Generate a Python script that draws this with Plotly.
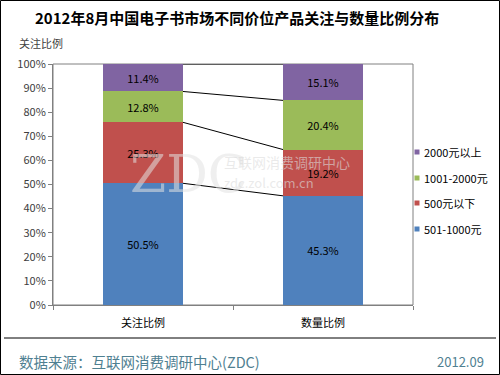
import plotly.graph_objects as go

categories = ["关注比例", "数量比例"]
series_names = ["501-1000元", "500元以下", "1001-2000元", "2000元以上"]
v_501_1000 = [50.5, 45.3]
v_below_500 = [25.3, 19.2]
v_1001_2000 = [12.8, 20.4]
v_above_2000 = [11.4, 15.1]
colors = ["#4F81BD", "#C0504D", "#9BBB59", "#8064A2"]
yticks = [0, 10, 20, 30, 40, 50, 60, 70, 80, 90, 100]

series_values = [v_501_1000, v_below_500, v_1001_2000, v_above_2000]
FONT = "Noto Sans CJK SC, sans-serif"
W, H = 500, 375
L, R, T, B = 53, 87, 64, 70
pw, ph = W - L - R, H - T - B
BW = 0.444

def px(x):
    return (x - L) / pw

def py(y):
    return (H - B - y) / ph

fig = go.Figure()
for i, (name, vals) in enumerate(zip(series_names, series_values)):
    fig.add_trace(go.Bar(
        x=categories, y=vals, name=name,
        marker=dict(color=colors[i], line=dict(width=0)),
        width=BW,
        text=[f"{v:.1f}%" for v in vals],
        textposition="inside", insidetextanchor="middle",
        textfont=dict(color="#000000", size=11, family=FONT),
        showlegend=False,
    ))

shapes = []
annotations = []
# connector lines between stacked segments
cum = [0.0, 0.0]
for vals in series_values:
    cum = [cum[0] + vals[0], cum[1] + vals[1]]
    shapes.append(dict(type="line", xref="x", yref="y",
                       x0=0 + BW / 2, x1=1 - BW / 2, y0=cum[0], y1=cum[1],
                       line=dict(color="#000000", width=1)))
# plot area frame
shapes.append(dict(type="rect", xref="paper", yref="paper", x0=0, x1=1, y0=0, y1=1,
                   line=dict(color="#808080", width=1), layer="below"))
# footer separator
shapes.append(dict(type="line", xref="paper", yref="paper",
                   x0=px(4), x1=px(496), y0=py(338), y1=py(338),
                   line=dict(color="#000000", width=1)))
# outer border
shapes.append(dict(type="rect", xref="paper", yref="paper",
                   x0=px(0.5), x1=px(499.5), y0=py(0.5), y1=py(374.5),
                   line=dict(color="#000000", width=1)))

# legend (top to bottom: reversed series order)
leg_y = [152, 178, 203, 229]
for k, idx in enumerate(reversed(range(len(series_names)))):
    yy = leg_y[k]
    shapes.append(dict(type="rect", xref="paper", yref="paper",
                       x0=px(414.5), x1=px(419.5), y0=py(yy + 2.5), y1=py(yy - 2.5),
                       fillcolor=colors[idx], line=dict(width=0)))
    annotations.append(dict(text=series_names[idx], xref="paper", yref="paper",
                            x=px(422), y=py(yy), xanchor="left", yanchor="middle",
                            showarrow=False,
                            font=dict(size=11, color="#000000", family=FONT)))

annotations += [
    dict(text="<b>2012年8月中国电子书市场不同价位产品关注与数量比例分布</b>", xref="paper", yref="paper",
         x=px(237), y=py(17), xanchor="center", yanchor="middle", showarrow=False,
         font=dict(size=15, color="#000000", family=FONT)),
    dict(text="关注比例", xref="paper", yref="paper", x=px(17), y=py(43),
         xanchor="left", yanchor="middle", showarrow=False,
         font=dict(size=11, color="#404040", family=FONT)),
    dict(text="数据来源：互联网消费调研中心(ZDC)", xref="paper", yref="paper",
         x=px(17), y=py(361), xanchor="left", yanchor="middle", showarrow=False,
         font=dict(size=14.5, color="#4F8091", family=FONT)),
    dict(text="2012.09", xref="paper", yref="paper",
         x=px(486), y=py(361), xanchor="right", yanchor="middle", showarrow=False,
         font=dict(size=13, color="#4F8091", family=FONT)),
    # watermark
    dict(text="ZDC", xref="paper", yref="paper", x=px(128), y=py(174),
         xanchor="left", yanchor="middle", showarrow=False,
         font=dict(size=52, color="rgba(225,225,225,0.55)", family="DejaVu Serif")),
    dict(text="互联网消费调研中心", xref="paper", yref="paper", x=px(222), y=py(162),
         xanchor="left", yanchor="middle", showarrow=False,
         font=dict(size=14, color="rgba(220,220,220,0.6)", family=FONT)),
    dict(text="zdc.zol.com.cn", xref="paper", yref="paper", x=px(222), y=py(182),
         xanchor="left", yanchor="middle", showarrow=False,
         font=dict(size=13, color="rgba(220,220,220,0.6)", family=FONT)),
]

fig.update_layout(
    width=W, height=H,
    margin=dict(l=L, r=R, t=T, b=B, pad=0),
    paper_bgcolor="#ffffff", plot_bgcolor="#ffffff",
    barmode="stack", bargap=1 - BW,
    font=dict(family=FONT, size=11, color="#000000"),
    showlegend=False,
    xaxis=dict(showgrid=False, showline=True, linecolor="#808080", zeroline=False,
               ticks="outside", tickson="boundaries", ticklen=4, tickcolor="#808080",
               ticklabelstandoff=8,
               tickfont=dict(size=11, color="#000000", family=FONT), range=[-0.5, 1.5]),
    yaxis=dict(range=[0, 100], tickvals=yticks, ticktext=[f"{t}%" for t in yticks],
               showgrid=False, zeroline=False, showline=True, linecolor="#808080",
               ticks="outside", ticklen=4, tickcolor="#808080",
               tickfont=dict(size=11, color="#404040", family=FONT)),
    shapes=shapes, annotations=annotations,
    uniformtext=dict(mode="show", minsize=8),
)

fig.write_html("out.html", config={"displayModeBar": False},
               post_script="document.body.style.margin='0';document.body.style.overflow='hidden';")
